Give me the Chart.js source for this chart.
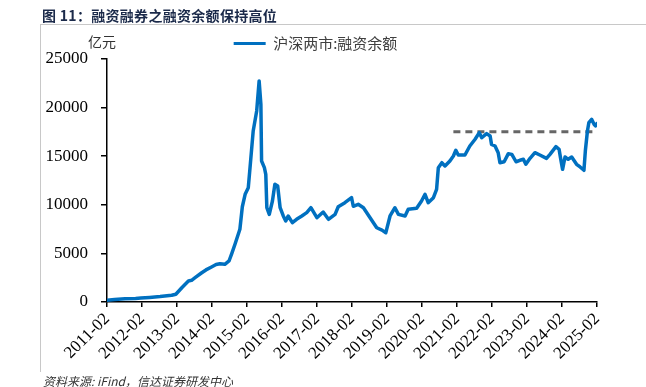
<!DOCTYPE html>
<html>
<head>
<meta charset="utf-8">
<script src="https://cdn.jsdelivr.net/npm/chart.js@4/dist/chart.umd.min.js"></script>
<style>
  html, body { margin: 0; padding: 0; background: #fff; }
  #wrap { position: relative; width: 646px; height: 387px; overflow: hidden; background: #fff; }
  #c { position: absolute; left: 0; top: 0; }
  .title { position: absolute; left: 42px; top: 5px; font-family: "Noto Sans CJK SC", sans-serif; font-weight: bold; font-size: 14px; color: #1b2a4a; white-space: nowrap; letter-spacing: 0.3px; }
  .hline { position: absolute; left: 41px; top: 24px; width: 605px; height: 1px; background: #c8c8c8; }
  .vline { position: absolute; left: 40px; top: 24px; width: 1px; height: 348px; background: #c8c8c8; }
  .unit { position: absolute; left: 88px; top: 31px; font-family: "Noto Sans CJK SC", sans-serif; font-size: 14px; color: #333; }
  .source { position: absolute; left: 43px; top: 372px; font-family: "Noto Sans CJK SC", sans-serif; font-style: italic; font-size: 12px; color: #333; white-space: nowrap; }
</style>
</head>
<body>
<div id="wrap">
  <canvas id="c" width="646" height="387"></canvas>
  <div class="hline"></div>
  <div class="vline"></div>
  <div class="title">图 11：融资融券之融资余额保持高位</div>
  <div class="unit">亿元</div>
  <div class="source">资料来源: iFind，信达证券研发中心</div>
</div>
<script>
// ---- Data ----
const seriesName = '沪深两市:融资余额';
const tickLabels = ['2011-02','2012-02','2013-02','2014-02','2015-02','2016-02','2017-02','2018-02','2019-02','2020-02','2021-02','2022-02','2023-02','2024-02','2025-02'];
const yTicks = [0, 5000, 10000, 15000, 20000, 25000];
// decimal years
const dates = [
  2011.08, 2011.30, 2011.60, 2011.90, 2012.05, 2012.30, 2012.60, 2012.93, 2013.05, 2013.22,
  2013.41, 2013.50, 2013.60, 2013.79, 2013.91, 2014.07, 2014.20, 2014.31, 2014.45, 2014.57,
  2014.65, 2014.74, 2014.88, 2014.95, 2015.03, 2015.12, 2015.17, 2015.26, 2015.36, 2015.43,
  2015.48, 2015.50, 2015.58, 2015.62, 2015.65, 2015.72, 2015.81, 2015.88, 2015.96, 2016.03,
  2016.12, 2016.19, 2016.26, 2016.38, 2016.50, 2016.65, 2016.79, 2016.91, 2017.08, 2017.26,
  2017.41, 2017.60, 2017.69, 2017.88, 2018.07, 2018.12, 2018.26, 2018.41, 2018.60, 2018.79,
  2018.94, 2019.05, 2019.17, 2019.31, 2019.41, 2019.60, 2019.69, 2019.93, 2020.07, 2020.17,
  2020.26, 2020.41, 2020.50, 2020.55, 2020.65, 2020.74, 2020.88, 2020.98, 2021.05, 2021.12,
  2021.31, 2021.45, 2021.60, 2021.72, 2021.79, 2021.93, 2022.03, 2022.07, 2022.17, 2022.26,
  2022.31, 2022.43, 2022.55, 2022.65, 2022.77, 2022.88, 2022.98, 2023.05, 2023.17, 2023.31,
  2023.45, 2023.64, 2023.74, 2023.91, 2024.00, 2024.04, 2024.10, 2024.17, 2024.26, 2024.36,
  2024.50, 2024.60, 2024.71, 2024.75, 2024.81, 2024.85, 2024.93, 2025.00, 2025.04, 2025.08
];
const financing = [
  180, 250, 330, 360, 400, 470, 560, 690, 800, 1470,
  2160, 2230, 2500, 3010, 3300, 3600, 3850, 3940, 3880, 4220,
  5000, 5940, 7480, 9800, 11080, 11760, 13820, 17590, 19650, 22740,
  20340, 14510, 13820, 13140, 9700, 9020, 10390, 12110, 11930, 9700,
  8850, 8330, 8850, 8160, 8510, 8850, 9190, 9700, 8670, 9260,
  8510, 9020, 9800, 10220, 10750, 9850, 10050, 9700, 8670, 7640,
  7400, 7130, 8850, 9700, 9020, 8850, 9540, 9640, 10390, 11080,
  10220, 10730, 11590, 13820, 14330, 13990, 14510, 15020, 15610, 15120,
  15120, 16050, 16740, 17420, 16900, 17320, 17080, 16220, 16050, 15360,
  14330, 14430, 15260, 15190, 14430, 14580, 14680, 14170, 14780, 15360,
  15120, 14780, 15190, 15980, 15710, 14850, 13650, 14920, 14680, 14920,
  14170, 13890, 13550, 15530, 17590, 18450, 18790, 18280, 18110, 18350
];
const refLineDates = [2020.98, 2025.08];
const refLineValues = [17520, 17520];

// ---- Build chart ----
const tickValues = tickLabels.map(l => parseInt(l.slice(0, 4), 10) + (parseInt(l.slice(5), 10) - 1) / 12);
const mainData = dates.map((d, i) => ({ x: d, y: financing[i] }));
const refData = refLineDates.map((d, i) => ({ x: d, y: refLineValues[i] }));
const serif = '"Liberation Serif", "Times New Roman", serif';

const shiftLegend = {
  id: 'shiftLegend',
  afterLayout(chart) {
    const lg = chart.legend;
    if (lg) { lg.top += 2; lg.bottom += 2; lg.left += 17; lg.right += 17; }
  }
};

new Chart(document.getElementById('c'), {
  type: 'line',
  data: {
    datasets: [
      {
        label: seriesName,
        data: mainData,
        borderColor: '#0070C0',
        backgroundColor: '#0070C0',
        borderWidth: 3.5,
        pointRadius: 0,
        tension: 0,
        borderJoinStyle: 'round',
        borderCapStyle: 'round'
      },
      {
        label: 'ref',
        data: refData,
        borderColor: '#666666',
        backgroundColor: '#666666',
        borderWidth: 3,
        borderDash: [7, 5],
        pointRadius: 0
      }
    ]
  },
  options: {
    responsive: false,
    animation: false,
    devicePixelRatio: 1,
    layout: { padding: { left: 0, right: 49, top: 19, bottom: 0 } },
    plugins: {
      tooltip: { enabled: false },
      legend: {
        display: true,
        position: 'top',
        align: 'center',
        labels: {
          boxWidth: 32,
          boxHeight: 3,
          padding: 15,
          color: '#404040',
          font: { family: '"Noto Sans CJK SC", sans-serif', size: 15 },
          filter: item => item.datasetIndex === 0,
          generateLabels(chart) {
            return Chart.defaults.plugins.legend.labels.generateLabels(chart).map(it => Object.assign(it, { lineWidth: 0 }));
          }
        }
      }
    },
    scales: {
      x: {
        type: 'linear',
        min: tickValues[0],
        max: tickValues[tickValues.length - 1],
        afterBuildTicks(scale) { scale.ticks = tickValues.map(v => ({ value: v })); },
        afterFit(scale) { scale.height = 85; },
        ticks: {
          autoSkip: false,
          maxRotation: 45,
          minRotation: 45,
          padding: 2,
          color: '#000',
          font: { family: serif, size: 17 },
          callback: (v, i) => tickLabels[i]
        },
        grid: { drawOnChartArea: false, drawTicks: true, tickLength: 5, color: '#000', lineWidth: 1.5 },
        border: { display: true, color: '#000', width: 1.5 }
      },
      y: {
        min: 0,
        max: 25000,
        afterBuildTicks(scale) { scale.ticks = yTicks.map(v => ({ value: v })); },
        afterFit(scale) { scale.width = 107; },
        ticks: {
          padding: 13,
          color: '#000',
          font: { family: serif, size: 17 },
          callback: v => String(v)
        },
        grid: { drawOnChartArea: false, drawTicks: true, tickLength: 6, color: '#000', lineWidth: 1.5 },
        border: { display: true, color: '#000', width: 1.5 }
      }
    }
  },
  plugins: [shiftLegend]
});
</script>
</body>
</html>
